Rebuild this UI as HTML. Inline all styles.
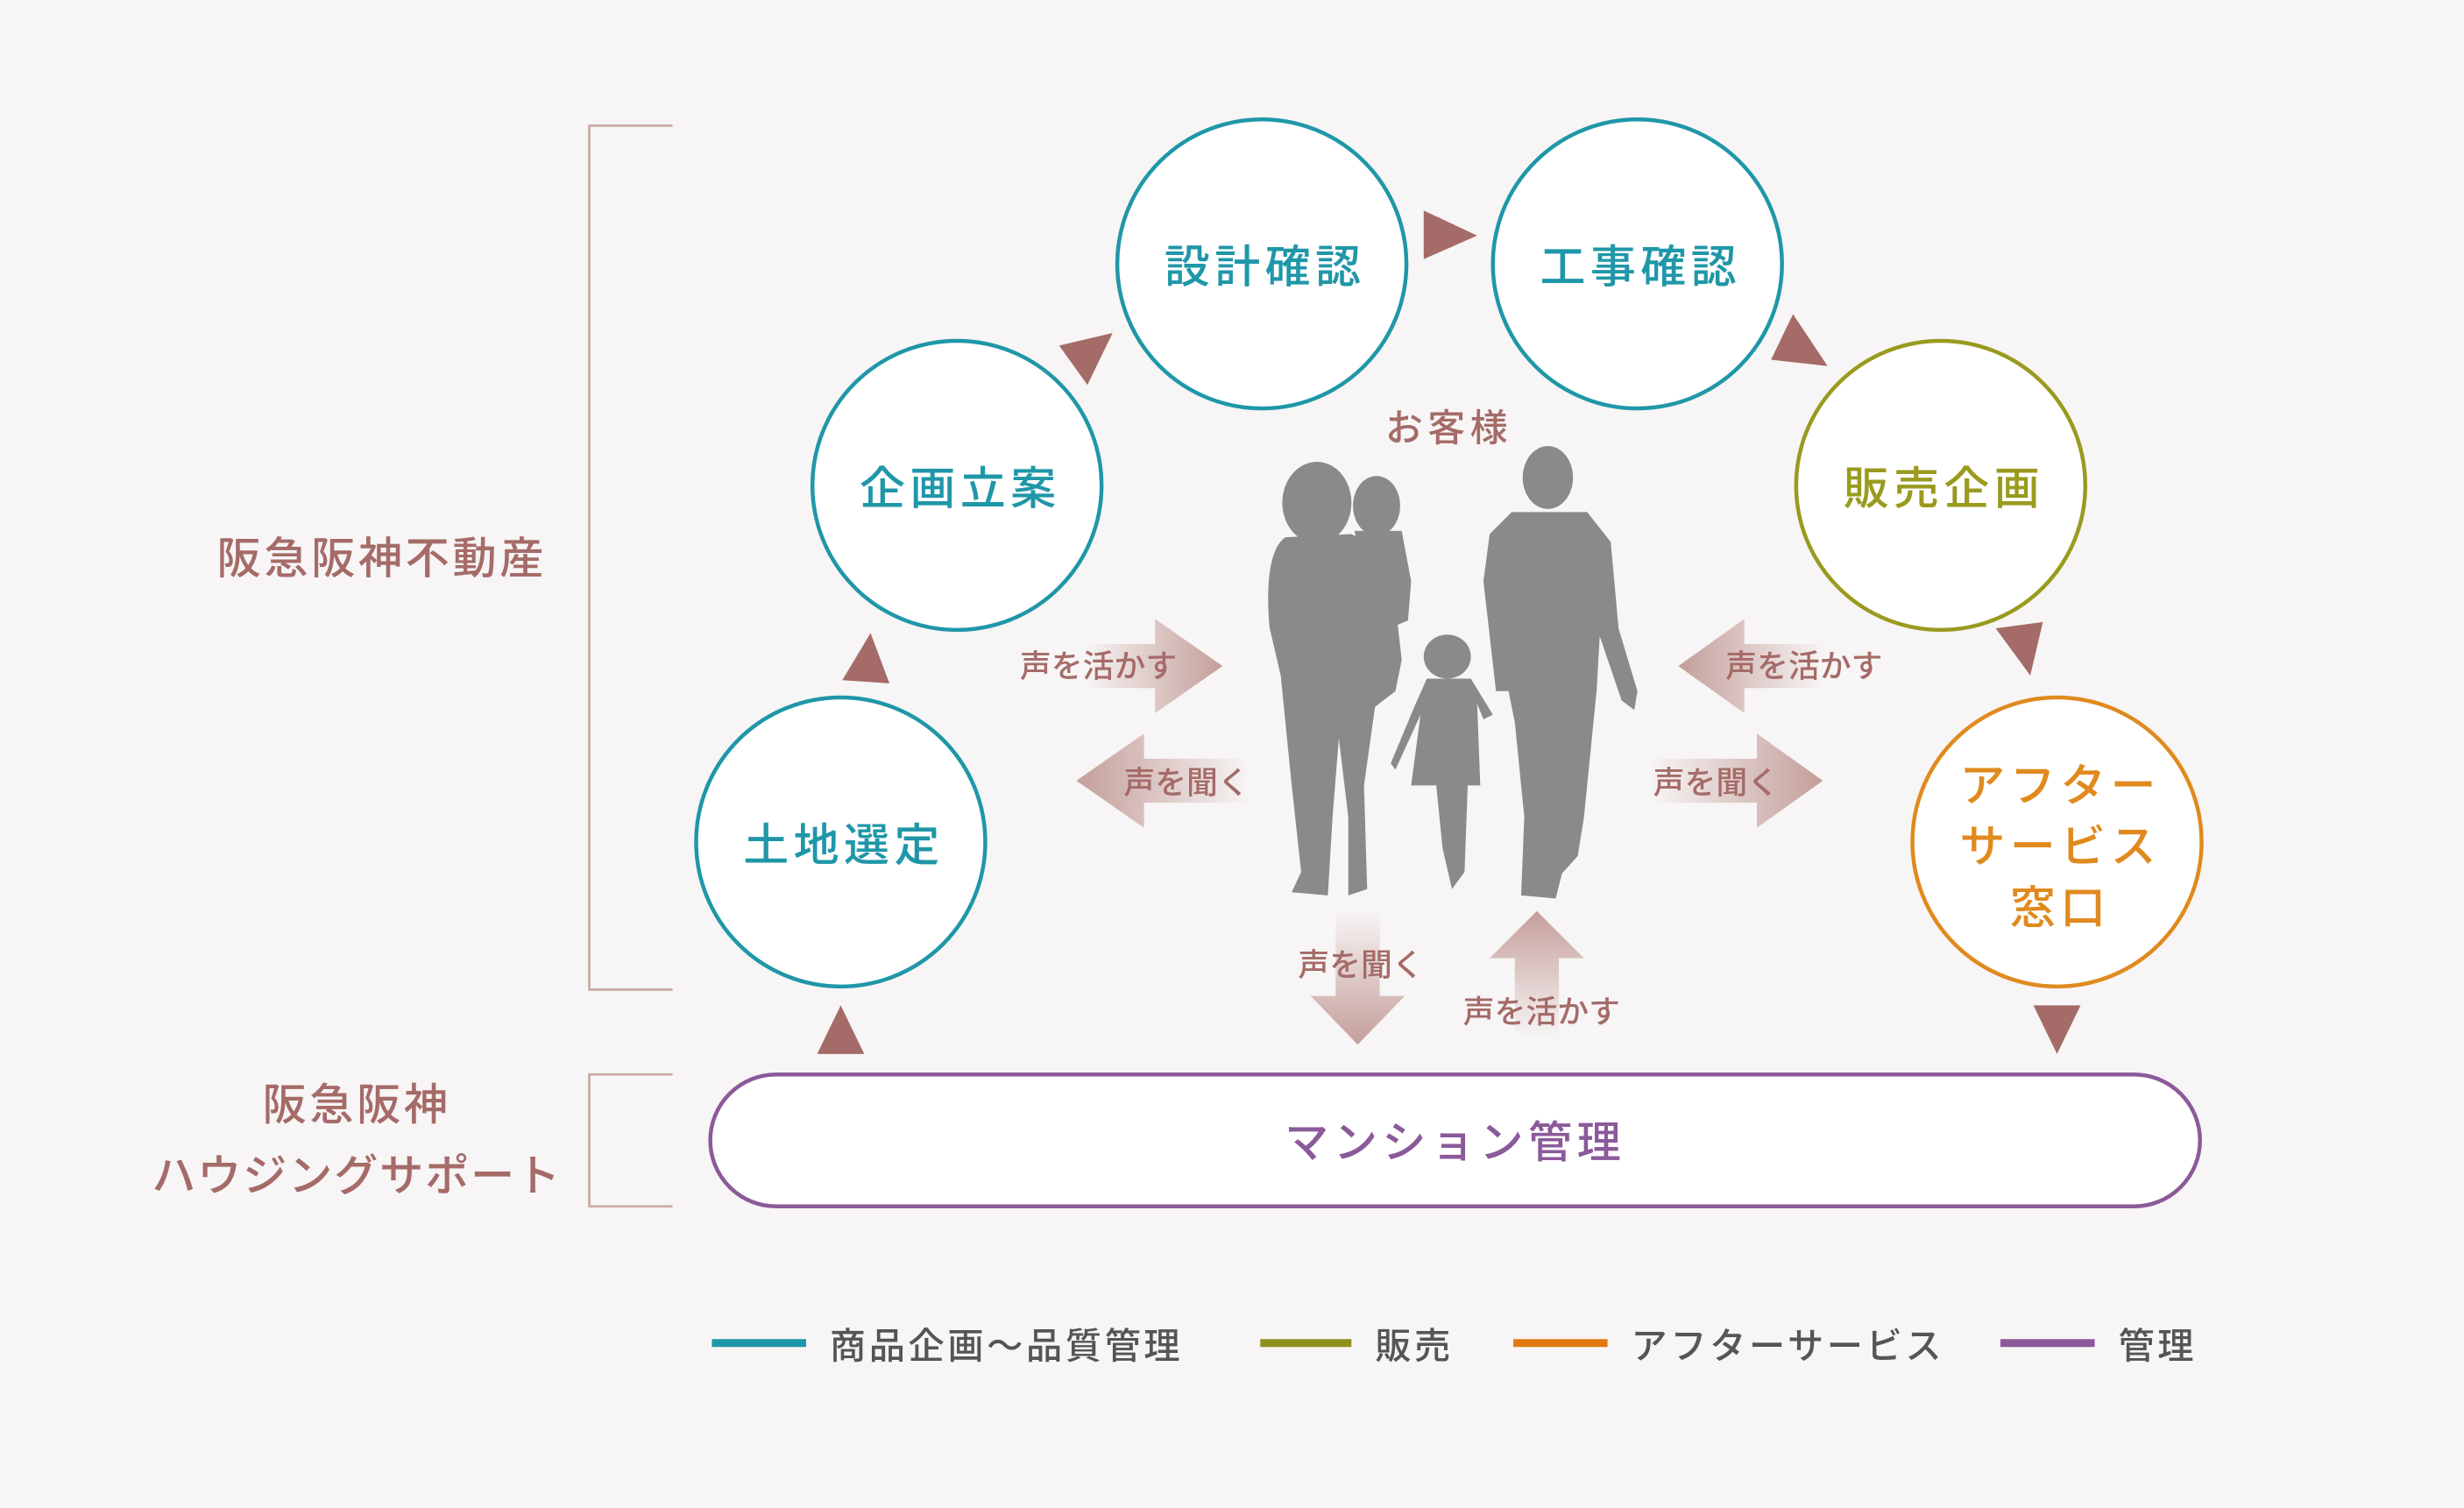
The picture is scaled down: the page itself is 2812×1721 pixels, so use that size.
<!DOCTYPE html>
<html><head><meta charset="utf-8"><style>
html,body{margin:0;padding:0;background:#f7f5f5;}
svg{display:block;}
text{font-family:"Liberation Sans","Noto Sans CJK JP",sans-serif;}
</style></head><body>
<svg width="2812" height="1721" viewBox="0 0 1568 960" preserveAspectRatio="none" xmlns="http://www.w3.org/2000/svg">
<defs>
<linearGradient id="gR" x1="0" x2="1" y1="0" y2="0"><stop offset="0" stop-color="#c49e9a" stop-opacity="0"/><stop offset="1" stop-color="#c49e9a"/></linearGradient>
<linearGradient id="gL" x1="1" x2="0" y1="0" y2="0"><stop offset="0" stop-color="#c49e9a" stop-opacity="0"/><stop offset="1" stop-color="#c49e9a"/></linearGradient>
<linearGradient id="gD" x1="0" x2="0" y1="0" y2="1"><stop offset="0" stop-color="#c49e9a" stop-opacity="0"/><stop offset="1" stop-color="#c49e9a"/></linearGradient>
<linearGradient id="gU" x1="0" x2="0" y1="1" y2="0"><stop offset="0" stop-color="#c49e9a" stop-opacity="0"/><stop offset="1" stop-color="#c49e9a"/></linearGradient>
</defs>
<rect width="1568" height="960" fill="#f7f5f5"/>

<g stroke="#c9a9a6" stroke-width="1.5" fill="none">
<path d="M428 80 H375 V630 H428"/>
<path d="M428 684 H375 V768 H428"/>
</g>
<g fill="#a56b68" font-size="28" text-anchor="middle" font-weight="500">
<text x="243" y="365" letter-spacing="2">阪急阪神不動産</text>
<text x="227" y="713" letter-spacing="2">阪急阪神</text>
<text x="227" y="758" letter-spacing="1">ハウジングサポート</text>
</g>

<path d="M690 410 H735 V394 L778 424 L735 454 V438 H690 Z" fill="url(#gR)"/>
<path d="M795 483 H728 V467 L685 497 L728 527 V511 H795 Z" fill="url(#gL)"/>
<path d="M1160 410 H1110 V394 L1068 424 L1110 454 V438 H1160 Z" fill="url(#gL)"/>
<path d="M1050 483 H1118 V467 L1160 497 L1118 527 V511 H1050 Z" fill="url(#gR)"/>
<path d="M850 580 V634 H834 L864 665 L894 634 H878 V580 Z" fill="url(#gD)"/>
<path d="M964 660 V610 H948 L978 580 L1008 610 H992 V660 Z" fill="url(#gU)"/>
<g fill="#a56b68" font-size="20" text-anchor="middle" font-weight="500">
<text x="699" y="431">声を活かす</text>
<text x="755" y="505">声を聞く</text>
<text x="1148" y="431">声を活かす</text>
<text x="1092" y="505">声を聞く</text>
<text x="866" y="621">声を聞く</text>
<text x="981" y="651">声を活かす</text>
</g>

<g fill="#8a8a8a">
<ellipse cx="838" cy="320" rx="22" ry="26"/>
<path d="M818 342 C806 350 806 380 808 400 L815 430 L822 500 L828 555 L822 568 L845 570 L848 520 L852 470 L858 520 L858 570 L870 566 L868 500 L875 450 L888 440 L892 420 L888 385 L880 350 L860 340 Z"/>
<ellipse cx="876" cy="322" rx="15" ry="19"/>
<path d="M862 338 L892 338 L898 370 L896 395 L884 400 L870 380 Z"/>
<ellipse cx="921" cy="418" rx="15" ry="14"/>
<path d="M908 432 L936 432 L950 455 L944 458 L940 448 L942 500 L934 500 L932 555 L924 566 L918 540 L914 500 L898 500 L904 455 L888 490 L885 486 L900 450 Z"/>
<ellipse cx="985" cy="304" rx="16" ry="20"/>
<path d="M962 326 L1010 326 L1025 345 L1030 400 L1042 440 L1040 452 L1032 446 L1018 405 L1016 440 L1008 520 L1004 545 L994 556 L990 572 L968 570 L970 520 L964 460 L960 440 L952 440 L944 370 L948 340 Z"/>
</g>
<text x="922" y="281" fill="#a56b68" font-size="24" text-anchor="middle" letter-spacing="3" font-weight="500">お客様</text>

<g fill="#fff" stroke-width="2.5">
<circle cx="803" cy="168" r="92" stroke="#1f97a8"/>
<circle cx="1042" cy="168" r="92" stroke="#1f97a8"/>
<circle cx="609" cy="309" r="92" stroke="#1f97a8"/>
<circle cx="535" cy="536" r="92" stroke="#1f97a8"/>
<circle cx="1235" cy="309" r="92" stroke="#9a9a1e"/>
<circle cx="1309" cy="536" r="92" stroke="#e08a1e"/>
</g>
<g font-size="29" text-anchor="middle" letter-spacing="3" font-weight="500">
<text x="805" y="180" fill="#1f97a8">設計確認</text>
<text x="1044" y="180" fill="#1f97a8">工事確認</text>
<text x="611" y="321" fill="#1f97a8">企画立案</text>
<text x="537" y="548" fill="#1f97a8">土地選定</text>
<text x="1237" y="321" fill="#9a9a1e">販売企画</text>
<text x="1311" y="510" fill="#e08a1e">アフター</text>
<text x="1311" y="549" fill="#e08a1e">サービス</text>
<text x="1311" y="588" fill="#e08a1e">窓口</text>
</g>

<g fill="#a56b68">
<polygon points="674,220 708,212 692,245"/>
<polygon points="906,134 940,150 906,165"/>
<polygon points="1141,200 1127,229 1163,233"/>
<polygon points="1270,400 1300,396 1292,430"/>
<polygon points="536,433 566,435 554,403"/>
<polygon points="520,671 550,671 535,640"/>
<polygon points="1294,640 1324,640 1309,671"/>
</g>

<rect x="452" y="684" width="948" height="84" rx="42" fill="#fff" stroke="#8b5a9a" stroke-width="2.5"/>
<text x="926" y="737" fill="#8b5a9a" font-size="28" text-anchor="middle" letter-spacing="3" font-weight="500">マンション管理</text>

<g stroke-width="5">
<line x1="453" y1="855" x2="513" y2="855" stroke="#1f97a8"/>
<line x1="802" y1="855" x2="860" y2="855" stroke="#8f8f1e"/>
<line x1="963" y1="855" x2="1023" y2="855" stroke="#e07a10"/>
<line x1="1273" y1="855" x2="1333" y2="855" stroke="#8b5a9a"/>
</g>
<g fill="#555" font-size="23" letter-spacing="2" font-weight="500">
<text x="528" y="865">商品企画〜品質管理</text>
<text x="875" y="865">販売</text>
<text x="1038" y="865">アフターサービス</text>
<text x="1348" y="865">管理</text>
</g>
</svg>
</body></html>
